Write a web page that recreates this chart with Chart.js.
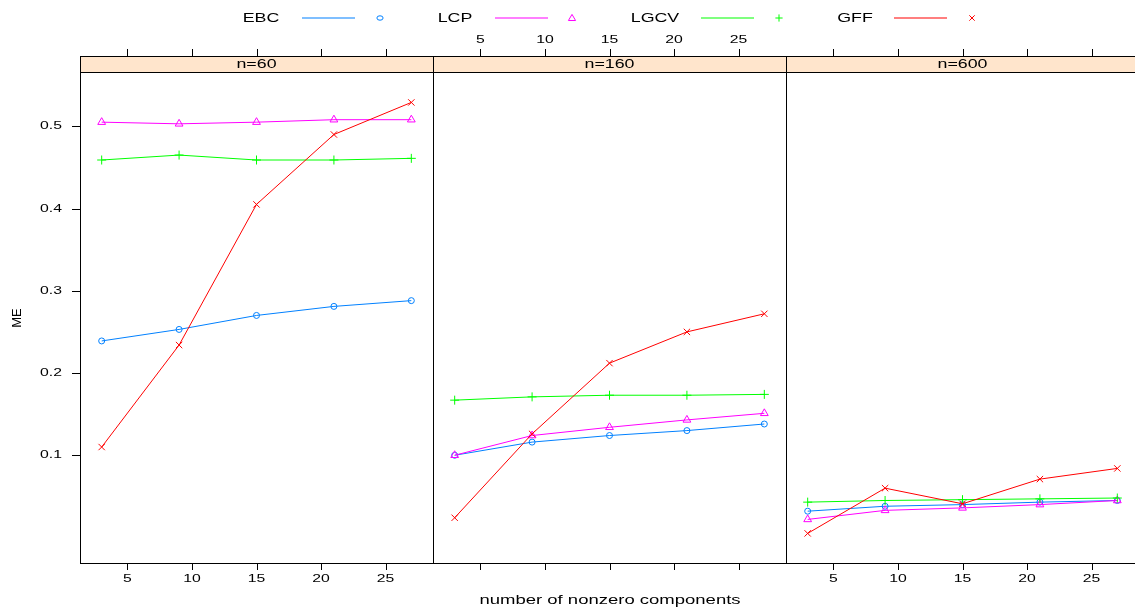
<!DOCTYPE html>
<html>
<head>
<meta charset="utf-8">
<script src="https://cdn.jsdelivr.net/npm/chart.js@4.4.0/dist/chart.umd.min.js"></script>
<style>
  html, body { margin: 0; padding: 0; background: #fff; }
  #wrap { position: relative; width: 1135px; height: 610px; overflow: hidden; }
  #wrap canvas { position: absolute; left: 0; top: 0; }
</style>
</head>
<body>
<div id="wrap">
  <canvas id="p60"></canvas>
  <canvas id="p160"></canvas>
  <canvas id="p600"></canvas>
</div>
<script>
// x values: number of nonzero components
const components = [3, 9, 15, 21, 27];
const panelNames = ['n=60', 'n=160', 'n=600'];
const xTicks = [5, 10, 15, 20, 25];
const yTicks = [0.1, 0.2, 0.3, 0.4, 0.5];
const methods = ['EBC', 'LCP', 'LGCV', 'GFF'];

// ME
const ebcN60 = [0.239, 0.253, 0.270, 0.281, 0.288];
const lcpN60 = [0.505, 0.503, 0.505, 0.508, 0.508];
const lgcvN60 = [0.459, 0.465, 0.459, 0.459, 0.461];
const gffN60 = [0.110, 0.234, 0.405, 0.490, 0.529];

const ebcN160 = [0.100, 0.116, 0.124, 0.130, 0.138];
const lcpN160 = [0.100, 0.124, 0.134, 0.143, 0.151];
const lgcvN160 = [0.167, 0.171, 0.173, 0.173, 0.174];
const gffN160 = [0.024, 0.126, 0.212, 0.250, 0.272];

const ebcN600 = [0.032, 0.038, 0.040, 0.043, 0.045];
const lcpN600 = [0.022, 0.033, 0.036, 0.040, 0.045];
const lgcvN600 = [0.043, 0.045, 0.046, 0.047, 0.048];
const gffN600 = [0.005, 0.060, 0.041, 0.071, 0.084];

const colores = ['#0080ff', '#ff00ff', '#00ff00', '#ff0000'];
const simbolos = ['circle', 'triangle', 'cross', 'crossRot'];
const raios = [3, 4.5, 4.5, 4.5];

const CW = 1145, CH = 610;
const TOP = 72, BOTTOM = 563;
const STRIP_TOP = 56;
const SX = 1.37; // the reference text is stretched horizontally
const FONT = '"Liberation Sans", Arial, sans-serif';

function texto(ctx, s, x, y, align, size) {
    ctx.save();
    ctx.translate(x, y);
    ctx.scale(SX, 1);
    ctx.font = size + 'px ' + FONT;
    ctx.fillStyle = '#000';
    ctx.textAlign = align;
    ctx.textBaseline = 'middle';
    ctx.fillText(s, 0, 0);
    ctx.restore();
}

function simbolo(ctx, tipo, x, y, r, cor) {
    ctx.save();
    ctx.strokeStyle = cor;
    ctx.lineWidth = 1;
    ctx.beginPath();
    if (tipo === 'circle') {
        ctx.ellipse(x, y, r * 1.2, r * 0.85, 0, 0, Math.PI * 2);
    } else if (tipo === 'triangle') {
        ctx.moveTo(x, y - r);
        ctx.lineTo(x + r, y + r * 0.7);
        ctx.lineTo(x - r, y + r * 0.7);
        ctx.closePath();
    } else if (tipo === 'cross') {
        ctx.moveTo(x - r, y); ctx.lineTo(x + r, y);
        ctx.moveTo(x, y - r); ctx.lineTo(x, y + r);
    } else {
        const d = r * 0.75;
        ctx.moveTo(x - d, y - d); ctx.lineTo(x + d, y + d);
        ctx.moveTo(x - d, y + d); ctx.lineTo(x + d, y - d);
    }
    ctx.stroke();
    ctx.restore();
}

function desenharLegenda(ctx) {
    const legX = [261, 455, 655, 855];
    const linX = [302, 495, 701, 894];
    const simX = [380, 572, 779, 972];
    methods.forEach((m, i) => {
        texto(ctx, m, legX[i], 18, 'center', 13);
        ctx.save();
        ctx.strokeStyle = colores[i];
        ctx.lineWidth = 1.2;
        ctx.beginPath();
        ctx.moveTo(linX[i], 18);
        ctx.lineTo(linX[i] + 53, 18);
        ctx.stroke();
        ctx.restore();
        simbolo(ctx, simbolos[i], simX[i], 18, i === 0 ? 2.6 : 3.6, colores[i]);
    });
}

// draws box, strip, ticks and shared texts
const painelPlugin = {
    id: 'painel',
    afterDraw(chart, args, opts) {
        const ctx = chart.ctx;
        const a = chart.chartArea;
        const xs = chart.scales.x;
        const ys = chart.scales.y;
        ctx.save();
        // strip
        ctx.fillStyle = '#ffe5cc';
        ctx.fillRect(a.left, STRIP_TOP, a.right - a.left, TOP - STRIP_TOP);
        ctx.strokeStyle = '#000';
        ctx.lineWidth = 1;
        ctx.strokeRect(a.left + 0.5, STRIP_TOP + 0.5, a.right - a.left, TOP - STRIP_TOP);
        texto(ctx, opts.nome, (a.left + a.right) / 2, STRIP_TOP + 8.5, 'center', 13);
        // panel box
        ctx.strokeRect(a.left + 0.5, a.top + 0.5, a.right - a.left, a.bottom - a.top);
        // x ticks
        ctx.beginPath();
        xTicks.forEach(t => {
            const px = Math.round(xs.getPixelForValue(t)) + 0.5;
            ctx.moveTo(px, a.bottom); ctx.lineTo(px, a.bottom + 7);
            ctx.moveTo(px, STRIP_TOP); ctx.lineTo(px, STRIP_TOP - 7);
        });
        ctx.stroke();
        xTicks.forEach(t => {
            const px = xs.getPixelForValue(t);
            if (opts.labelBaixo) texto(ctx, String(t), px, a.bottom + 16, 'center', 11.5);
            if (opts.labelTopo) texto(ctx, String(t), px, 40, 'center', 11.5);
        });
        if (opts.eixoY) {
            ctx.beginPath();
            yTicks.forEach(t => {
                const py = Math.round(ys.getPixelForValue(t)) + 0.5;
                ctx.moveTo(a.left, py); ctx.lineTo(a.left - 8, py);
            });
            ctx.stroke();
            yTicks.forEach(t => {
                texto(ctx, t.toFixed(1), a.left - 18, ys.getPixelForValue(t), 'right', 11.5);
            });
            // y title
            ctx.save();
            ctx.translate(17, 318);
            ctx.rotate(-Math.PI / 2);
            ctx.font = '13px ' + FONT;
            ctx.fillStyle = '#000';
            ctx.textAlign = 'center';
            ctx.textBaseline = 'middle';
            ctx.fillText('ME', 0, 0);
            ctx.restore();
            // x title
            texto(ctx, 'number of nonzero components', 610, 600, 'center', 13.5);
            desenharLegenda(ctx);
        }
        ctx.restore();
    }
};

function criarPainel(id, left, right, series, opts) {
    const el = document.getElementById(id);
    el.width = CW; el.height = CH;
    el.style.width = CW + 'px'; el.style.height = CH + 'px';
    new Chart(el.getContext('2d'), {
        type: 'line',
        data: {
            datasets: series.map((s, i) => ({
                label: methods[i],
                data: components.map((c, k) => ({ x: c, y: s[k] })),
                borderColor: colores[i],
                backgroundColor: 'transparent',
                borderWidth: 1,
                pointStyle: simbolos[i],
                pointRadius: raios[i],
                pointBorderColor: colores[i],
                pointBackgroundColor: 'transparent',
                pointBorderWidth: 1,
                tension: 0,
                order: 4 - i
            }))
        },
        options: {
            responsive: false,
            animation: false,
            devicePixelRatio: 1,
            layout: { padding: { left: left, right: CW - right, top: TOP, bottom: CH - BOTTOM } },
            plugins: { legend: { display: false }, tooltip: { enabled: false }, painel: opts },
            scales: {
                x: { type: 'linear', min: 1.32, max: 28.68, display: false },
                y: { type: 'linear', min: -0.031, max: 0.566, display: false }
            }
        },
        plugins: [painelPlugin]
    });
}

criarPainel('p60', 80, 433, [ebcN60, lcpN60, lgcvN60, gffN60],
    { nome: panelNames[0], labelBaixo: true, labelTopo: false, eixoY: true });
criarPainel('p160', 433, 786, [ebcN160, lcpN160, lgcvN160, gffN160],
    { nome: panelNames[1], labelBaixo: false, labelTopo: true, eixoY: false });
criarPainel('p600', 786, 1139, [ebcN600, lcpN600, lgcvN600, gffN600],
    { nome: panelNames[2], labelBaixo: true, labelTopo: false, eixoY: false });
</script>
</body>
</html>
